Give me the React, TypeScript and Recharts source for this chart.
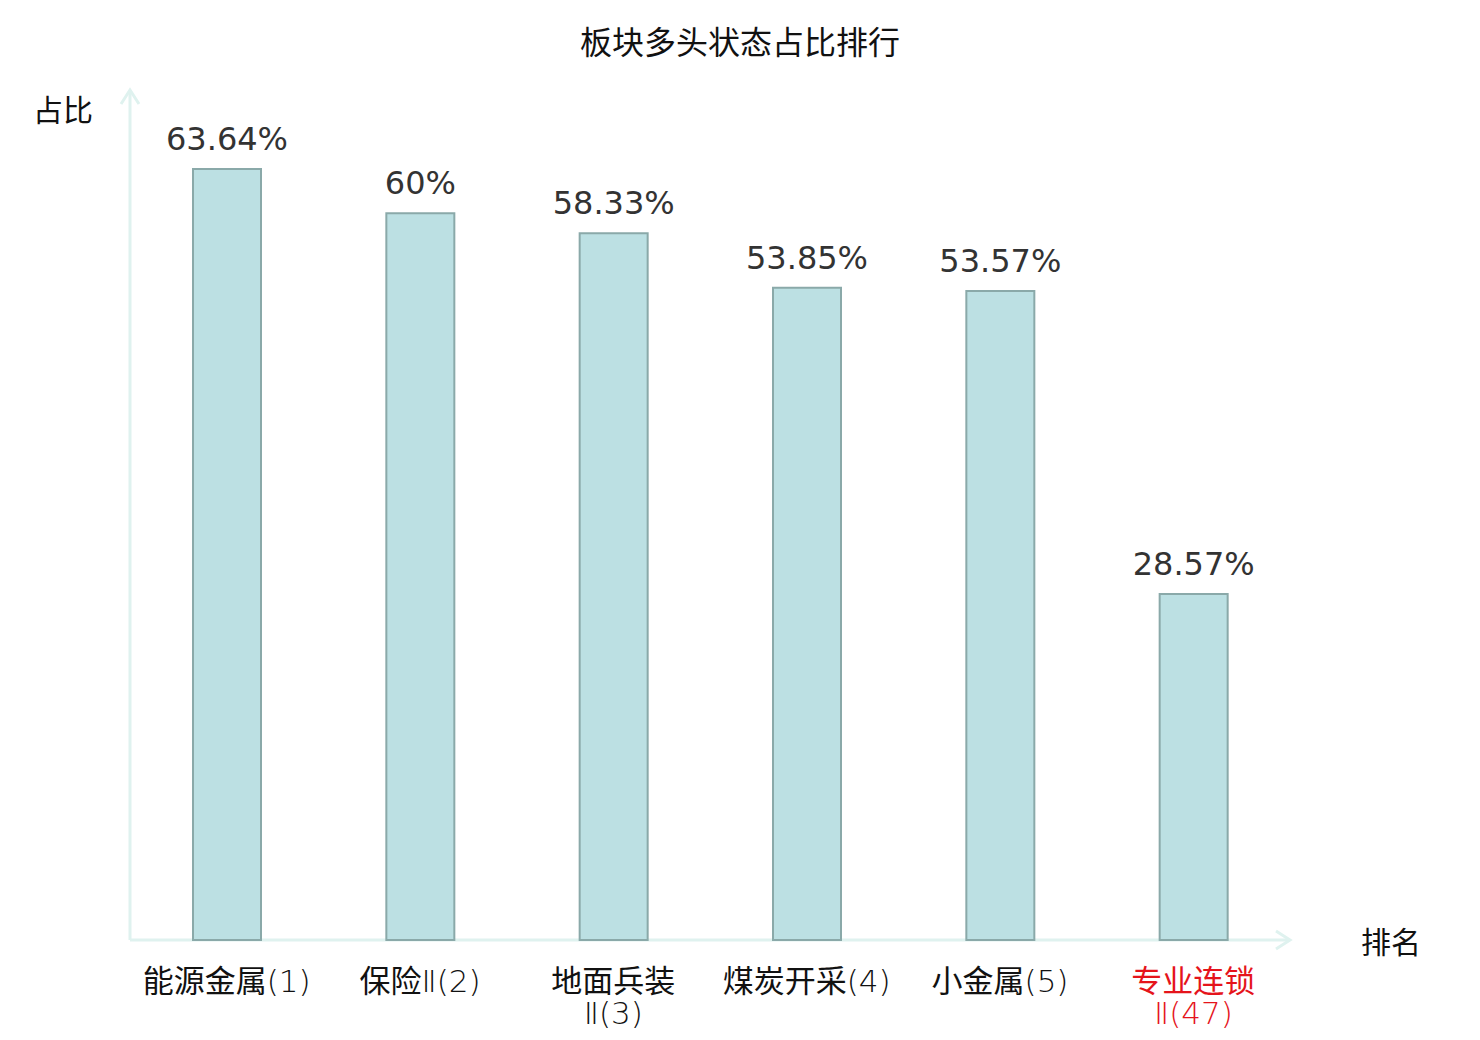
import { Bar, BarChart, LabelList, XAxis, YAxis, usePlotArea } from "recharts";

const CATEGORIES = ["能源金属(1)", "保险Ⅱ(2)", "地面兵装Ⅱ(3)", "煤炭开采(4)", "小金属(5)", "专业连锁Ⅱ(47)"];
const VALUES = [63.64, 60, 58.33, 53.85, 53.57, 28.57];
const HIGHLIGHT = ["专业连锁Ⅱ(47)"];

const FONT = "'DejaVu Sans', 'Noto Sans CJK SC', sans-serif";
const CJK_FONT = "'Noto Sans CJK SC', sans-serif";
const AXIS_COLOR = "#dff2ef";

const data = CATEGORIES.map((name, i) => ({ name, value: VALUES[i] }));

function splitLabel(name: string) {
  if (name.length > 7) return [name.slice(0, 4), name.slice(4)];
  return [name];
}

// split a line into CJK runs and latin runs so the latin part can use a lighter face
function runs(line: string) {
  return line.match(/[\u4e00-\u9fff]+|[^\u4e00-\u9fff]+/g) ?? [];
}

function CategoryTick({ x, y, payload }: { x?: number; y?: number; payload?: { value: string } }) {
  const name = payload?.value ?? "";
  const lines = splitLabel(name);
  const color = HIGHLIGHT.includes(name) ? "#e5141b" : "#111";
  return (
    <g>
      {lines.map((l, i) => (
        <text key={i} x={x} y={(y ?? 0) + 44 + i * 32} textAnchor="middle" fill={color} fontSize={31} fontFamily={CJK_FONT}>
          {runs(l).map((r, j) =>
            /[\u4e00-\u9fff]/.test(r) ? (
              <tspan key={j}>{r}</tspan>
            ) : (
              <tspan key={j} fontFamily="'DejaVu Sans'" fontWeight={200}>
                {r}
              </tspan>
            )
          )}
        </text>
      ))}
    </g>
  );
}

function AxisArrows() {
  const area = usePlotArea();
  if (!area) return null;
  const left = area.x;
  const bottom = area.y + area.height;
  const right = area.x + area.width;
  const top = area.y;
  return (
    <g stroke={AXIS_COLOR} strokeWidth={3} fill="none">
      <line x1={left} y1={bottom} x2={left} y2={top - 2} />
      <polyline points={`${left - 9},${top + 12} ${left},${top - 2} ${left + 9},${top + 12}`} />
      <line x1={left} y1={bottom} x2={right} y2={bottom} />
      <polyline points={`${right - 14},${bottom - 9} ${right},${bottom} ${right - 14},${bottom + 9}`} />
    </g>
  );
}

export default function App() {
  return (
    <div style={{ width: 1480, height: 1040, position: "relative", background: "#fff", fontFamily: CJK_FONT }}>
      <style>{"body{margin:0}"}</style>
      <div style={{ position: "absolute", top: 17, width: 1480, textAlign: "center", fontSize: 32, color: "#111" }}>
        板块多头状态占比排行
      </div>
      <div style={{ position: "absolute", left: 33, top: 86, fontSize: 30, color: "#111" }}>占比</div>
      <div style={{ position: "absolute", left: 1361, top: 918, fontSize: 30, color: "#111" }}>排名</div>
      <BarChart width={1480} height={1040} data={data} margin={{ top: 92, right: 190, left: 130, bottom: 0 }}>
        <XAxis dataKey="name" axisLine={false} tickLine={false} tick={<CategoryTick />} interval={0} height={100} />
        <YAxis hide domain={[0, 70]} width={0} />
        <Bar dataKey="value" fill="#bce0e3" stroke="#8aa9a9" strokeWidth={2} barSize={68} isAnimationActive={false}>
          <LabelList
            dataKey="value"
            position="top"
            offset={19}
            formatter={(v: number) => `${v}%`}
            style={{ fontSize: 32, fill: "#333", fontFamily: FONT }}
          />
        </Bar>
        <AxisArrows />
      </BarChart>
    </div>
  );
}
